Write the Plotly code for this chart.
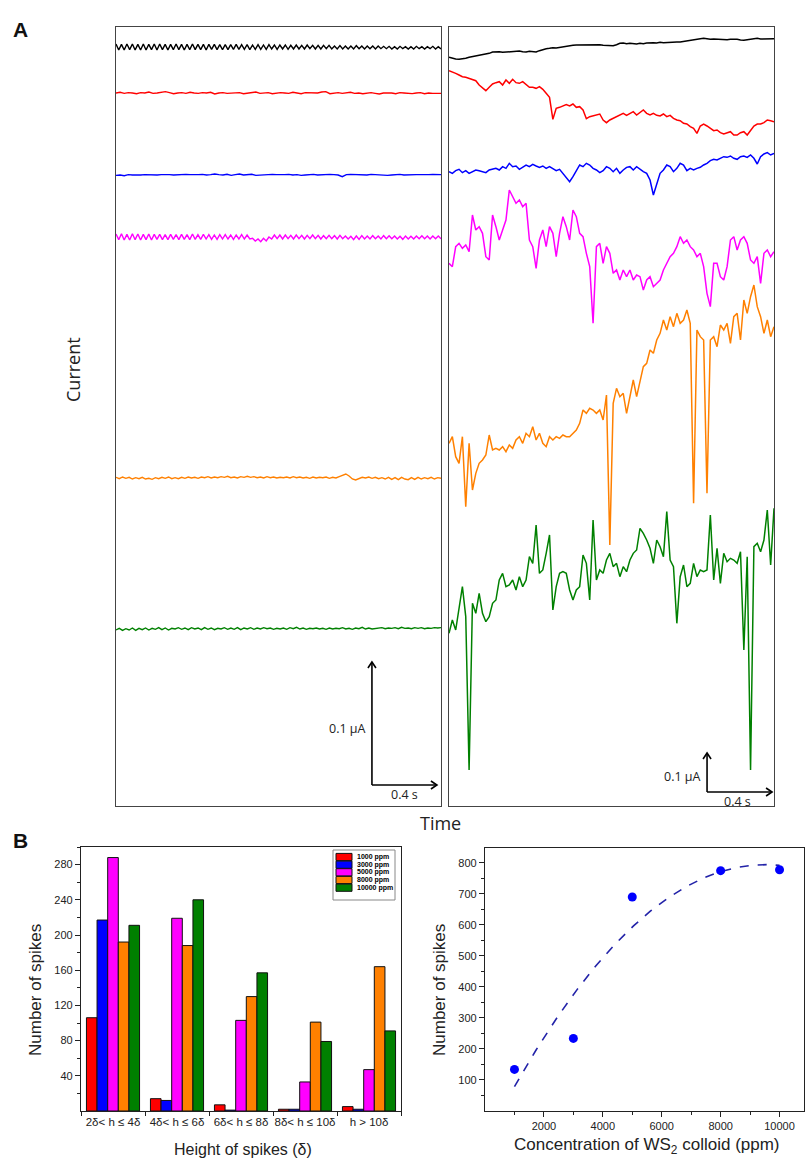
import numpy as np
import plotly.graph_objects as go

W, H = 805, 1159

# ---------------- Panel A : current traces (stacked, arbitrary units) ----------------
TRACE_COLORS = ["#000000", "#ff0000", "#0000ff", "#ff00ff", "#ff8000", "#008000"]
TRACE_DURATION_S = 2.0
A_Y_RANGE = [0, 2337]

# left panel: offsets + deviations
LEFT_OFFSETS = [2277, 2139, 1893, 1707, 984, 531]
LEFT_BLACK = [9,-9,8,-9,9,-8,9,-9,8,-9,9,-9,8,-8,9,-9,9,-8,8,-9,
              8,-8,9,-8,8,-9,8,-8,9,-8,8,-8,8,-9,8,-7,8,-8,7,-8,
              7,-8,7,-7,8,-7,7,-7,7,-8,6,-7,7,-7,6,-7,7,-6,6,-7,
              6,-6,6,-7,5,-6,6,-6,5,-6,6,-5,5,-6,5,-6,5,-5,5,-6,
              3,-6,4,-6,3,-6,3,-6,4,-5,3,-6,3,-5,3,-6,3,-5,2,-5,
              2,-6,1,-6,2,-5,1,-6,1,-6,2,-5,1,-6,1,-5,2,-6,1,-6]
LEFT_RED = [0,2,-1,1,0,-2,1,0,3,-1,0,2,4,1,-2,0,1,-1,2,0,
            -1,1,0,2,-3,0,1,-1,0,2,1,-2,0,1,3,-1,0,1,-2,0,
            1,0,-1,2,0,-2,1,0,-1,0,3,4,-2,0,1,-1,0,2,-1,0,
            -2,0,1,-1,-3,0,1,0,-2,1,0,-1,-2,0,1,-2,0,-1,-2,-1]
LEFT_BLUE = [-1,0,-2,1,0,-1,0,1,0,-1,0,1,2,1,0,1,0,2,1,0,
             1,2,0,1,3,1,0,2,-1,1,3,0,1,2,-1,0,1,0,2,1,
             0,1,2,0,1,-1,0,1,2,0,1,0,2,1,0,-5,1,2,1,0,
             1,0,2,1,0,1,-1,0,1,2,0,1,0,1,1,0,1,2,1,1]
LEFT_MAGENTA = [9,-8,10,-9,8,-9,10,-8,9,-9,8,-8,9,-9,8,-7,8,-8,7,-8,
                8,-7,7,-8,8,-7,7,-8,9,-7,7,-7,8,-6,7,-7,6,-7,7,-6,
                7,-6,6,-7,6,-6,7,-6,6,-6,-4,-12,-6,-14,-4,-12,0,-6,6,-5,
                6,-6,6,-5,5,-6,6,-5,5,-6,5,-5,6,-5,5,-6,4,-5,5,-5,
                4,-6,5,-5,3,-6,2,-8,3,-7,4,-6,3,-6,4,-5,3,-6,4,-5,
                4,-5,3,-6,2,-7,3,-6,2,-6,3,-5,4,-5,3,-6,3,-5,3,-5]
LEFT_ORANGE = [2,-2,3,-1,2,-3,1,-2,2,-3,-1,-4,1,-2,2,-1,3,-2,1,-2,
               2,-1,3,0,2,-1,3,1,4,0,3,1,4,2,5,1,3,0,4,2,
               5,2,4,1,3,0,4,1,3,0,2,1,3,0,4,1,3,0,2,-1,
               3,0,2,1,3,-1,2,0,4,9,12,6,-3,-6,-2,2,0,3,-1,2,
               -2,1,-3,2,-4,1,-5,2,-3,-5,1,-4,2,-3,1,-2,2,-3,1,-1]
LEFT_GREEN = [-3,2,-4,1,-3,3,-4,2,-2,3,-3,2,-1,4,-2,3,-3,2,0,4,
              -1,3,-2,4,0,3,-2,4,-1,3,-2,2,0,4,-1,3,-1,4,-2,3,
              0,4,-1,3,0,4,1,3,-1,2,0,3,-1,4,1,5,0,3,-1,2,
              1,3,0,2,-1,3,0,2,1,4,0,2,-1,3,1,5,0,3,0,2,
              2,4,1,3,2,4,1,5,2,3,1,4,2,4,1,3,2,4,3,4]

# right panel: offsets + deviations
RIGHT_OFFSETS = [2268, 2118, 1918, 1718, 1108, 648]
RIGHT_BLACK = [-22,-25,-27,-28,-27,-25,-22,-20,-18,-16,-15,-13,-10,-6,-5,-5,-7,-6,-4,-3,
               -2,-3,-5,-6,-4,-5,-6,-2,2,4,5,7,6,8,10,11,13,14,15,15,
               16,16,17,16,15,16,14,13,12,13,16,20,21,19,20,19,18,20,19,21,
               22,22,21,23,22,23,24,23,24,24,26,27,30,31,32,34,35,33,32,33,
               32,33,32,31,32,33,32,30,29,31,32,34,35,33,33,34,35,34]
RIGHT_RED = [88,85,80,75,70,68,65,63,58,45,35,28,38,48,52,55,45,60,50,62,
             52,50,55,45,38,38,35,40,32,20,8,-58,-25,-22,-18,-14,-18,-12,-22,-20,
             -30,-56,-50,-48,-45,-42,-60,-68,-60,-55,-50,-45,-40,-46,-40,-35,-45,-38,-30,-40,
             -45,-40,-46,-48,-42,-50,-46,-55,-60,-62,-70,-72,-80,-85,-100,-78,-72,-78,-85,-92,
             -90,-98,-102,-98,-95,-105,-105,-98,-95,-105,-90,-78,-72,-72,-68,-60,-62,-65]
RIGHT_BLUE = [-15,-20,-12,-8,-18,-12,-20,-15,-10,-12,-15,-18,-10,-8,-5,-10,0,-5,10,0,
              2,-8,-2,5,0,7,2,-2,2,-5,0,-5,-12,-8,-20,-35,-45,-30,-10,5,
              0,10,5,-5,-10,-18,-12,0,-5,-15,-5,-20,-10,-2,0,-10,0,-8,-15,-20,
              -40,-85,-55,-20,-10,5,0,-15,-5,10,5,-12,-5,-10,-5,-2,5,10,18,22,
              20,25,30,28,32,25,22,30,32,28,35,25,8,30,38,42,35,40]
RIGHT_MAGENTA = [-90,-100,-40,-30,-45,-35,-55,55,10,20,0,-70,-80,55,20,-20,10,40,130,110,
                 90,100,80,90,-20,-40,-105,-20,10,-40,20,0,-70,0,50,20,-20,70,50,0,
                 -10,-60,-100,-270,-40,-30,-90,-40,-60,-120,-110,-140,-110,-130,-110,-140,-125,-130,-170,-140,
                 -130,-160,-150,-140,-110,-90,-70,-60,-40,-10,-30,-20,-40,-50,-70,-60,-100,-180,-220,-90,
                 -90,-130,-140,-100,-20,-10,-50,-20,-10,-30,-80,-90,-70,-150,-60,-50,-70,-55]
RIGHT_ORANGE = [-20,0,-60,-80,0,-210,-20,-160,-110,-80,-70,-55,5,-40,-35,-40,-30,-45,-25,-35,
                -10,0,-20,10,0,30,-10,10,-20,-30,0,-10,0,-5,5,0,0,10,20,40,
                80,70,85,80,70,80,50,125,-325,100,145,120,130,70,120,170,120,170,210,220,
                260,250,290,310,350,320,360,330,370,340,350,380,340,-200,320,300,290,-170,290,300,
                270,335,320,340,280,360,370,290,410,370,420,455,390,360,310,350,300,330]
RIGHT_GREEN = [-130,-90,-120,-50,10,-80,-540,-40,-70,-10,-70,-95,-80,-40,-30,30,50,10,15,30,
               0,40,10,30,100,80,195,50,60,110,165,-60,10,50,55,50,0,-30,0,10,
               105,80,-30,210,30,60,50,90,110,70,80,40,70,55,90,110,120,185,170,150,
               125,80,150,130,100,235,90,70,-100,40,75,10,20,80,40,60,55,60,225,30,
               125,20,110,85,95,90,80,115,-180,100,-540,130,140,115,150,240,75,245]

LEFT_TRACES = [LEFT_BLACK, LEFT_RED, LEFT_BLUE, LEFT_MAGENTA, LEFT_ORANGE, LEFT_GREEN]
RIGHT_TRACES = [RIGHT_BLACK, RIGHT_RED, RIGHT_BLUE, RIGHT_MAGENTA, RIGHT_ORANGE, RIGHT_GREEN]

# scale bars (units per 0.1 uA in each panel)
LEFT_UNITS_PER_01UA = 369
RIGHT_UNITS_PER_01UA = 117
SCALEBAR_TIME_S = 0.4

# ---------------- Panel B : spike histogram ----------------
BAR_CATEGORIES = ["2\u03b4< h \u2264 4\u03b4", "4\u03b4< h \u2264 6\u03b4", "6\u03b4< h \u2264 8\u03b4",
                  "8\u03b4< h \u2264 10\u03b4", "h > 10\u03b4"]
BAR_SERIES = ["1000 ppm", "3000 ppm", "5000 ppm", "8000 ppm", "10000 ppm"]
BAR_COLORS = ["#ff0000", "#0000ff", "#ff00ff", "#ff8000", "#008000"]
BAR_1000 = [106, 14, 7, 2, 5]
BAR_3000 = [217, 12, 1, 2, 2]
BAR_5000 = [288, 219, 103, 33, 47]
BAR_8000 = [192, 188, 130, 101, 164]
BAR_10000 = [211, 240, 157, 79, 91]
BAR_VALUES = [BAR_1000, BAR_3000, BAR_5000, BAR_8000, BAR_10000]
BAR_Y_TICKS = [40, 80, 120, 160, 200, 240, 280]

# ---------------- Panel B : total spikes vs concentration ----------------
CONC_PPM = [1000, 3000, 5000, 8000, 10000]
TOTAL_SPIKES = [134, 234, 690, 775, 778]
CONC_TICKS = [2000, 4000, 6000, 8000, 10000]
SPIKE_TICKS = [100, 200, 300, 400, 500, 600, 700, 800]

# ---------------- layout helpers ----------------
def xp(px):
    return px / W


def yp(py):
    return 1 - py / H


A_LEFT_X = [xp(116), xp(441)]
A_RIGHT_X = [xp(449), xp(774)]
A_Y = [yp(806), yp(27)]
B_BAR_X = [xp(81), xp(401)]
B_BAR_Y = [yp(1111), yp(847)]
B_SC_X = [xp(485), xp(804)]
B_SC_Y = [yp(1111), yp(848)]

fig = go.Figure()

for i in range(6):
    vals = np.array(LEFT_TRACES[i]) + LEFT_OFFSETS[i]
    t = np.linspace(0, TRACE_DURATION_S, len(vals))
    fig.add_trace(go.Scatter(x=t, y=vals, mode="lines", xaxis="x", yaxis="y",
                             line=dict(color=TRACE_COLORS[i], width=1.4), showlegend=False))
for i in range(6):
    vals = np.array(RIGHT_TRACES[i]) + RIGHT_OFFSETS[i]
    t = np.linspace(0, TRACE_DURATION_S, len(vals))
    fig.add_trace(go.Scatter(x=t, y=vals, mode="lines", xaxis="x2", yaxis="y2",
                             line=dict(color=TRACE_COLORS[i], width=1.5), showlegend=False))

for name, col, vals in zip(BAR_SERIES, BAR_COLORS, BAR_VALUES):
    fig.add_trace(go.Bar(x=BAR_CATEGORIES, y=vals, name=name, xaxis="x3", yaxis="y3",
                         marker=dict(color=col, line=dict(color="#111111", width=1)),
                         showlegend=False))

coef = np.polyfit(CONC_PPM, TOTAL_SPIKES, 2)
xs = np.linspace(min(CONC_PPM), max(CONC_PPM), 200)
fig.add_trace(go.Scatter(x=xs, y=np.polyval(coef, xs), mode="lines", xaxis="x4", yaxis="y4",
                         line=dict(color="#2222a8", width=1.6, dash="dash"), showlegend=False))
fig.add_trace(go.Scatter(x=CONC_PPM, y=TOTAL_SPIKES, mode="markers", xaxis="x4", yaxis="y4",
                         marker=dict(color="#0000ff", size=9), showlegend=False))

box_a = dict(showline=True, mirror=True, linecolor="#444444", linewidth=1.3, showgrid=False,
             zeroline=False, showticklabels=False, ticks="")
AXIS_FONT = dict(family="Liberation Sans, Arial", size=11, color="#222222")

layout = dict(
    width=W, height=H, margin=dict(l=0, r=0, t=0, b=0),
    paper_bgcolor="white", plot_bgcolor="rgba(0,0,0,0)",
    font=dict(family="Liberation Sans, Arial", color="#222222"),
    bargap=0.17, bargroupgap=0, barmode="group", showlegend=False,
    xaxis=dict(domain=A_LEFT_X, range=[0, TRACE_DURATION_S], anchor="y", **box_a),
    yaxis=dict(domain=A_Y, range=A_Y_RANGE, anchor="x", **box_a),
    xaxis2=dict(domain=A_RIGHT_X, range=[0, TRACE_DURATION_S], anchor="y2", **box_a),
    yaxis2=dict(domain=A_Y, range=A_Y_RANGE, anchor="x2", **box_a),
    xaxis3=dict(domain=B_BAR_X, anchor="y3", type="category", categoryorder="array",
                categoryarray=BAR_CATEGORIES, range=[-0.5, 4.5], tickangle=0,
                showline=True, mirror=True, linecolor="#222222", linewidth=1.3,
                ticks="outside", tickson="boundaries", ticklen=4, tickcolor="#222222",
                tickfont=dict(family="Liberation Sans, Arial", size=11.5, color="#222222"),
                showgrid=False, zeroline=False),
    yaxis3=dict(domain=B_BAR_Y, anchor="x3", range=[0, 300], tickmode="array", tickvals=BAR_Y_TICKS,
                showline=True, mirror=True, linecolor="#222222", linewidth=1.3,
                ticks="outside", ticklen=5, tickcolor="#222222", tickfont=AXIS_FONT,
                minor=dict(tickmode="array", tickvals=[20, 60, 100, 140, 180, 220, 260, 300],
                           ticks="outside", ticklen=3, tickcolor="#222222"),
                showgrid=False, zeroline=False),
    xaxis4=dict(domain=B_SC_X, anchor="y4", range=[0, 10830], tickmode="array",
                tickvals=CONC_TICKS, ticktext=[str(v) for v in CONC_TICKS],
                showline=True, mirror=True, linecolor="#222222", linewidth=1.3,
                ticks="outside", ticklen=5, tickcolor="#222222", tickfont=AXIS_FONT,
                minor=dict(tickmode="array", tickvals=[1000, 3000, 5000, 7000, 9000],
                           ticks="outside", ticklen=3, tickcolor="#222222"),
                showgrid=False, zeroline=False),
    yaxis4=dict(domain=B_SC_Y, anchor="x4", range=[0, 848], tickmode="array",
                tickvals=SPIKE_TICKS,
                showline=True, mirror=True, linecolor="#222222", linewidth=1.3,
                ticks="outside", ticklen=5, tickcolor="#222222", tickfont=AXIS_FONT,
                minor=dict(tickmode="array", tickvals=[50, 150, 250, 350, 450, 550, 650, 750],
                           ticks="outside", ticklen=3, tickcolor="#222222"),
                showgrid=False, zeroline=False),
)
fig.update_layout(**layout)

# ---- scale bars ----
DX_PER_PX = TRACE_DURATION_S / 325.0
DY_PER_PX = (A_Y_RANGE[1] - A_Y_RANGE[0]) / 779.0
shapes = []
annotations = []


def scalebar(xr, yr, t0, y0, h, label_dy_px, t_label_px):
    tw = SCALEBAR_TIME_S
    hw, hl = 4, 6
    ln = dict(color="#000000", width=1.6)
    shapes.append(dict(type="line", xref=xr, yref=yr, x0=t0, y0=y0, x1=t0, y1=y0 + h, line=ln))
    shapes.append(dict(type="line", xref=xr, yref=yr, x0=t0, y0=y0, x1=t0 + tw, y1=y0, line=ln))
    shapes.append(dict(type="path", xref=xr, yref=yr, line=ln,
                       path=f"M {t0 - hw*DX_PER_PX},{y0 + h - hl*DY_PER_PX} L {t0},{y0 + h} "
                            f"L {t0 + hw*DX_PER_PX},{y0 + h - hl*DY_PER_PX}"))
    shapes.append(dict(type="path", xref=xr, yref=yr, line=ln,
                       path=f"M {t0 + tw - hl*DX_PER_PX},{y0 + hw*DY_PER_PX} L {t0 + tw},{y0} "
                            f"L {t0 + tw - hl*DX_PER_PX},{y0 - hw*DY_PER_PX}"))
    annotations.append(dict(xref=xr, yref=yr, x=t0, y=y0 + label_dy_px * DY_PER_PX, xanchor="right",
                            yanchor="middle", xshift=-4, showarrow=False, text="0.1 \u00b5A",
                            font=dict(family="Open Sans", size=12.5, color="#222222")))
    annotations.append(dict(xref=xr, yref=yr, x=t0 + tw / 2 + t_label_px * DX_PER_PX, y=y0,
                            xanchor="center", yanchor="top", yshift=1, showarrow=False, text="0.4 s",
                            font=dict(family="Open Sans", size=12.5, color="#222222")))


scalebar("x", "y", 1.575, 63, LEFT_UNITS_PER_01UA, 57, 0)
scalebar("x2", "y2", 1.588, 42, RIGHT_UNITS_PER_01UA, 16, -2)

# ---- manual legend for bar chart ----
shapes.append(dict(type="rect", xref="paper", yref="paper", x0=xp(333), x1=xp(395), y0=yp(900), y1=yp(850),
                   line=dict(color="#888888", width=1), fillcolor="white"))
row_y = [857, 864.7, 872.3, 880, 887.7]
for ry, name, col in zip(row_y, BAR_SERIES, BAR_COLORS):
    shapes.append(dict(type="rect", xref="paper", yref="paper", x0=xp(336), x1=xp(352),
                       y0=yp(ry + 3.6), y1=yp(ry - 3.6), line=dict(color="#111111", width=1), fillcolor=col))
    annotations.append(dict(xref="paper", yref="paper", x=xp(355), y=yp(ry), xanchor="left", yanchor="middle",
                            showarrow=False, text=f"<b>{name}</b>",
                            font=dict(family="Liberation Sans, Arial", size=7, color="#000000")))

# ---- titles / labels ----
annotations += [
    dict(xref="paper", yref="paper", x=xp(11), y=yp(16), xanchor="left", yanchor="top", showarrow=False,
         text="<b>A</b>", font=dict(family="Liberation Sans, Arial", size=21, color="#111111")),
    dict(xref="paper", yref="paper", x=xp(11), y=yp(827), xanchor="left", yanchor="top", showarrow=False,
         text="<b>B</b>", font=dict(family="Liberation Sans, Arial", size=21, color="#111111")),
    dict(xref="paper", yref="paper", x=xp(73), y=yp(370), xanchor="center", yanchor="middle", showarrow=False,
         textangle=-90, text="Current", font=dict(family="Open Sans", size=18, color="#222222")),
    dict(xref="paper", yref="paper", x=xp(440), y=yp(823), xanchor="center", yanchor="middle", showarrow=False,
         text="Time", font=dict(family="Open Sans", size=18, color="#222222")),
    dict(xref="paper", yref="paper", x=xp(35), y=yp(990), xanchor="center", yanchor="middle", showarrow=False,
         textangle=-90, text="Number of spikes", font=dict(family="Liberation Sans, Arial", size=17, color="#222222")),
    dict(xref="paper", yref="paper", x=xp(243), y=yp(1149), xanchor="center", yanchor="middle", showarrow=False,
         text="Height of spikes (\u03b4)", font=dict(family="Liberation Sans, Arial", size=16, color="#222222")),
    dict(xref="paper", yref="paper", x=xp(439), y=yp(990), xanchor="center", yanchor="middle", showarrow=False,
         textangle=-90, text="Number of spikes", font=dict(family="Liberation Sans, Arial", size=17, color="#222222")),
    dict(xref="paper", yref="paper", x=xp(647), y=yp(1146), xanchor="center", yanchor="middle", showarrow=False,
         text="Concentration of WS<sub>2</sub> colloid (ppm)",
         font=dict(family="Liberation Sans, Arial", size=17, color="#222222")),
]

fig.update_layout(shapes=shapes, annotations=annotations)
fig.write_html("out.html")
